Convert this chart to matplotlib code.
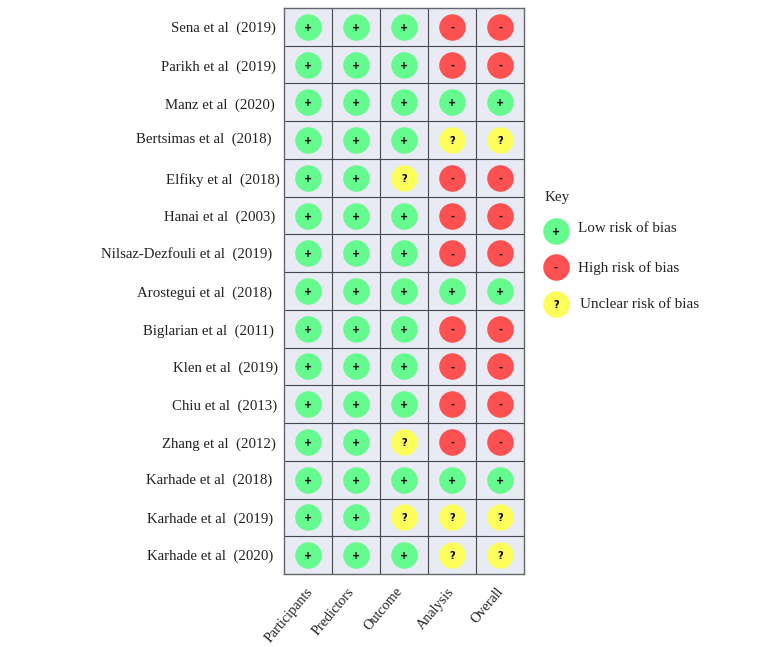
import matplotlib
matplotlib.use("Agg")
import matplotlib.pyplot as plt

plt.rcParams['font.family'] = ['Liberation Serif', 'DejaVu Serif']

studies = ["Sena et al  (2019)", "Parikh et al  (2019)", "Manz et al  (2020)", "Bertsimas et al  (2018)",
           "Elfiky et al  (2018)", "Hanai et al  (2003)", "Nilsaz-Dezfouli et al  (2019)",
           "Arostegui et al  (2018)", "Biglarian et al  (2011)", "Klen et al  (2019)",
           "Chiu et al  (2013)", "Zhang et al  (2012)", "Karhade et al  (2018)",
           "Karhade et al  (2019)", "Karhade et al  (2020)"]
domains = ["Participants", "Predictors", "Outcome", "Analysis", "Overall"]
judgements = ["+++--", "+++--", "+++++", "+++??", "++?--", "+++--", "+++--", "+++++",
              "+++--", "+++--", "+++--", "++?--", "+++++", "++???", "+++??"]
key_symbols = ["+", "-", "?"]
key_labels = ["Low risk of bias", "High risk of bias", "Unclear risk of bias"]
colors = {"+": "#66fb8f", "-": "#fd5050", "?": "#fdfd5a"}

# Label layout nudges, in pixels
label_dx = [3, 3, 2, -2, 7, 2, -1, -1, 1, 5, 4, 2.5, -1, 0, 0]
label_dy = [-1, -2.4, -2.7, 1, -2.2, -1.5, -0.8, -2, -2.3, -1.6, -1.9, -2.1, -0.4, -1.7, -1]
domain_dx = [-9, -16, -16, -12, -11]

W, H = 766, 647
px = 72 / 100
fig = plt.figure(figsize=(W / 100, H / 100), dpi=100, facecolor="white")
L, R, T, B = 284, 524, 8, 574
ax = fig.add_axes([L / W, 1 - B / H, (R - L) / W, (B - T) / H], facecolor="#e8eaf4")
ax.set_xlim(0, len(domains))
ax.set_ylim(len(studies), 0)

for r, row in enumerate(judgements):
    for c, sym in enumerate(row):
        ax.scatter(c + 0.5, r + 0.5, s=365, color=colors[sym], linewidths=0, zorder=3)
        ax.text(c + 0.5, r + 0.5, sym, ha="center", va="center_baseline", fontsize=7,
                fontweight="bold", family="DejaVu Sans", color="black", zorder=4)

ax.set_xticks(range(1, len(domains)))
ax.set_yticks(range(1, len(studies)))
ax.grid(True, color="#48484c", lw=0.8, zorder=1)
ax.tick_params(length=0, labelbottom=False, labelleft=False)
for s in ax.spines.values():
    s.set_color("#66666a")
    s.set_linewidth(1.0)

for r, name in enumerate(studies):
    ax.annotate(name, (0, r + 0.5), xytext=((-11 + label_dx[r]) * px, label_dy[r] * px),
                textcoords="offset points", ha="right", va="center", fontsize=10.7, color="#222222")
for c, name in enumerate(domains):
    ax.annotate(name, (c + 0.5, len(studies)), xytext=(5 + domain_dx[c] * px, -8),
                textcoords="offset points", ha="right", va="top", rotation=50,
                rotation_mode="anchor", fontsize=10.3, color="#222222")

# Key, placed in figure pixels
key = fig.add_axes([0, 0, 1, 1], facecolor="none")
key.set_xlim(0, W)
key.set_ylim(H, 0)
key.axis("off")
key.text(545, 197, "Key", ha="left", va="center", fontsize=10.9, color="#222222")
for sym, label, yy, yt, xt in zip(key_symbols, key_labels, (231, 267, 304), (228, 268, 304), (578, 578, 580)):
    key.scatter(556, yy, s=365, color=colors[sym], linewidths=0)
    key.text(556, yy, sym, ha="center", va="center_baseline", fontsize=7, fontweight="bold",
             family="DejaVu Sans", color="black")
    key.text(xt, yt, label, ha="left", va="center", fontsize=10.9, color="#222222")

fig.savefig("out.png", dpi=100)
